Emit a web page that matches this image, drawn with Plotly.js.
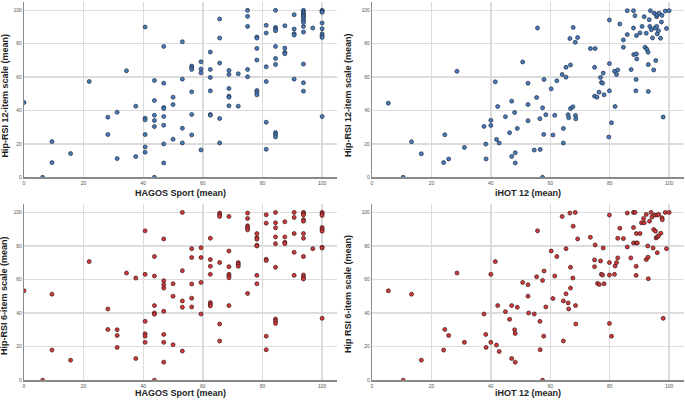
<!DOCTYPE html>
<html>
<head>
<meta charset="utf-8">
<script src="https://cdn.plot.ly/plotly-3.0.1.min.js"></script>
<style>
html,body{margin:0;padding:0;background:#fff;}
#chart{width:685px;height:401px;}
</style>
</head>
<body>
<div id="chart"></div>
<script>
// Panel A: HAGOS Sport vs Hip-RSI 12-item
const hagosSportA = [0,6.25,9.375,9.375,15.625,21.875,28.125,28.125,31.25,31.25,34.375,37.5,37.5,40.625,40.625,40.625,40.625,40.625,40.625,43.75,43.75,43.75,43.75,43.75,43.75,46.875,46.875,46.875,46.875,46.875,46.875,46.875,46.875,
50,50,50,53.125,53.125,53.125,53.125,56.25,56.25,56.25,56.25,56.25,56.25,59.375,59.375,59.375,59.375,
62.5,62.5,62.5,62.5,62.5,62.5,65.625,65.625,65.625,65.625,65.625,68.75,68.75,68.75,68.75,68.75,68.75,71.875,71.875,
75,75,75,75,75,78.125,78.125,78.125,78.125,78.125,78.125,78.125,81.25,81.25,81.25,81.25,81.25,81.25,
84.375,84.375,84.375,84.375,84.375,84.375,84.375,84.375,84.375,84.375,87.5,87.5,87.5,87.5,
90.625,90.625,90.625,90.625,90.625,93.75,93.75,93.75,93.75,93.75,93.75,93.75,93.75,93.75,93.75,93.75,93.75,93.75,
96.875,100,100,100,100,100,100,100,100,100];
const hipRsi12A = [44.8,0,21.4,8.8,14.2,57.4,36,25.6,39,11.2,63.8,42.6,12.4,90,35.4,34.4,25.6,18.2,15,58,46,37.2,34,30.4,0,78.4,56.4,41.8,41.2,36.4,31.2,20,8.6,
48,43.6,22.8,81.2,58.8,29.4,20.6,66.6,65.6,64.6,51.2,37.6,25.4,69.2,64.8,62.6,16.4,
75,64.6,59.8,51.8,37.6,37.2,94.8,83.4,68.4,35.2,20.6,64,61.6,53.2,48.6,48,42.8,62,42.6,
100,96.4,90.4,64.6,60.2,84,83.4,77.2,70.2,52,50.8,49.4,91,86.4,66.2,57.4,33,16.8,
100,89.8,88.8,87.8,78.4,71.2,67.6,26.8,25.6,24.2,90.8,77.4,74.8,74,
97.4,88.8,86,85.2,58.8,100,99,98,97.2,96.4,95.4,94,92.8,90.4,87,67.8,56.6,51.6,
89.4,100,99.4,98.8,92.4,89,86,84.8,83.8,36.4];

// Panel B: iHOT 12 vs Hip-RSI 12-item
const ihot12B = [5.5,10.5,13.3,16.6,24.1,24.5,25.8,28.6,31.1,37.7,38.3,38.4,40,40,41.5,41.9,42.3,42.8,44.9,46.3,47,47,48,48.2,48.2,48.9,50.7,52.5,52.5,52.5,
54.6,55.4,55.7,56.5,56.6,57.4,57.4,57.8,57.9,58.5,60.3,60.9,61.5,62.2,64,64.4,64.4,65.3,65.3,66,66.2,66.6,66.8,66.8,67.6,67.7,68.4,68.5,68.6,69.2,
73.5,74.9,75.1,74.9,75.7,76.4,76.9,77.2,77.6,77.8,78.1,79.9,79.9,79.9,79.7,80.6,81.6,81.8,82.3,82.7,83.4,84.6,84.6,85.9,85.9,87.2,88,88,88.1,88.5,
89,89,89.1,88.9,88.8,90.2,90.9,91.6,91.9,92.3,92.5,92.9,93,93,93.3,93.5,93.7,94,94.4,94.8,95,95.2,95.5,95.8,95.8,95.9,96,96.4,96.6,97.1,97.4,97.6,98,98.7,99.1,100];
const hipRsi12B = [44.4,0,21.3,14.1,8.8,25.5,11,63.5,17.9,30.5,19.9,11,34.1,31.1,57.2,22.7,42.4,20.5,36.3,26.7,45.6,12.5,38.8,14.7,8.6,29.3,69.1,56.4,43.6,33.9,
16.3,47.8,89.4,35.1,16.7,41.6,0,25.7,58.6,37.5,53,25.3,37.1,57.8,61.6,29.3,20.5,65.9,60,37.5,35.7,83.1,67.3,41.2,42.2,89.8,80.9,37,35,83.7,
77.1,65.9,77.1,48.6,48,51,59.8,56.8,56.4,62.4,49.4,94.2,68.1,51.8,24.1,32.7,63.5,42.4,61.6,64.3,91.8,82.3,77.9,99.8,85.5,64.5,99.8,89.4,73.5,96.8,
84.9,73.9,70.9,58.6,51.8,86.5,90.4,96.2,77.9,86.3,76.7,74.9,67.5,51.4,94.4,90.4,99.8,88.4,83.5,64.3,98.2,89.4,69.9,90.4,96.2,97.4,85.9,87.8,98.2,83.3,93,97,36.1,99.6,89.2,99.8];

// Panel C: HAGOS Sport vs Hip-RSI 6-item
const hagosSportC = [0,6.25,9.375,9.375,15.625,21.875,28.125,28.125,31.25,31.25,31.25,34.375,37.5,37.5,40.625,40.625,40.625,40.625,40.625,40.625,43.75,43.75,43.75,43.75,43.75,43.75,
46.875,46.875,46.875,46.875,46.875,46.875,46.875,46.875,50,50,50,53.125,53.125,53.125,53.125,53.125,56.25,56.25,56.25,56.25,56.25,59.375,59.375,59.375,59.375,
62.5,62.5,62.5,62.5,62.5,62.5,62.5,65.625,65.625,65.625,65.625,65.625,65.625,68.75,68.75,68.75,68.75,68.75,68.75,68.75,71.875,71.875,71.875,
75,75,75,75,75,75,78.125,78.125,78.125,78.125,78.125,78.125,78.125,81.25,81.25,81.25,81.25,81.25,81.25,
84.375,84.375,84.375,84.375,84.375,84.375,84.375,84.375,84.375,87.5,87.5,87.5,87.5,90.625,90.625,90.625,90.625,90.625,
93.75,93.75,93.75,93.75,93.75,93.75,93.75,93.75,93.75,93.75,93.75,96.875,100,100,100,100,100,100,100,100,100];
const hipRsi6C = [53.3,0,51.3,18,12,70.7,42.5,30.3,30.1,26.7,19.6,63.9,60.9,13,89,63.1,35.1,27.7,26.3,22.6,73.7,62.1,44.5,40.1,39.3,0,
84.2,59.3,56.9,54.9,41.1,27.3,22.6,10.8,57.5,50.1,21.2,100,65.3,47.3,43.5,17.4,78.4,73.1,57.3,48.9,43.7,79,73.1,58.3,39.5,
84.6,71.9,67.9,63.1,46.3,45.3,44.3,99.6,98.6,97.6,70.1,33.5,23.4,97.6,77,67.7,63.1,62.1,61.1,44.5,70.1,69.1,67.9,
99.6,96.4,92,90.8,89.6,51.7,87.4,85,84,80.4,80,62.5,57.5,98.6,93.6,72.1,71.3,26.3,18.2,
100,93.8,90.8,85.4,81.4,67.3,36.5,35.3,33.9,94.4,85.4,82.2,81.4,100,97,87.4,76.2,62.5,
100,99.4,98.4,95.6,94.8,87.4,84.6,73.7,62.7,61.3,60.3,78.4,100,99.2,98.2,91,90,88.8,79.2,78.8,36.9];

// Panel D: iHOT 12 vs Hip RSI 6-item
const ihot12D = [5.5,10.5,13.3,16.6,24.1,24.5,25.8,28.6,31.1,37.7,38.3,38.4,40,40,41.5,41.9,42.3,42.8,44.9,46.3,47,47,48,48.2,48.2,48.9,50.7,52.5,52.5,52.7,
54.6,55.4,55.7,56.5,56.6,57.4,57.4,57.8,57.9,58.5,60.3,60.9,61.5,62.2,64,64.4,64.4,65.3,65.3,66,66.2,66.6,66.8,66.8,67.6,67.7,68.4,68.5,68.6,69.2,
73.5,74.9,75.1,74.9,75.9,76.5,76.9,77.2,77.6,77.8,78.1,79.9,79.9,79.9,79.9,80.6,81.6,81.8,82.3,82.7,82.7,83.4,84.6,85.9,85.9,87.1,88,88.5,88,88,
89,90.2,88.9,89.3,88.9,88.9,90.7,91.6,91.4,92.3,92.3,92.8,92.9,93,93.4,93.9,94.2,94.6,94.8,95.4,95.1,95.6,96,96.4,95.9,96.5,96,97.2,97.6,97.7,98,98.7,99.1,100];
const hipRsi6D = [53.3,0,51.3,12,18,30.3,26.7,63.9,22.6,39.5,27.3,19.6,63.1,22.6,70.7,21,44.5,17.2,40.9,36.3,44.5,13,30.1,27.9,10.8,43.5,58.3,56.9,50.1,40.1,
39.5,61.7,89,35.1,18.2,59.5,0,26.3,65.1,43.7,77,48.7,62.1,73.7,97.6,47.3,23.4,78.4,51.5,46.1,42.5,99.6,67.3,54.9,60.9,91.8,100,44.5,33.5,84.2,
85.2,71.7,80.6,67.7,57.7,57.1,71.1,63.1,62.7,78.8,57.5,98.4,70.1,62.7,33.9,26.3,63.1,68.1,70.1,72.9,84.6,90.6,84.4,99.6,79.4,72.9,100,100,91,81.8,
87.4,87.4,81.8,81.8,67.9,62.5,93.8,93.8,96.4,98.8,71.9,80,73.3,60.5,94.8,100,97.2,78.8,89.8,88.8,98.4,84.8,85.4,86,98.4,98.8,76,87.6,96.8,95.6,36.9,100,78.4,100];

const tickValues = [0,20,40,60,80,100];
const tickLabels = ['0','20','40','60','80','100'];
const xTitles = ['HAGOS Sport (mean)','iHOT 12 (mean)','HAGOS Sport (mean)','iHOT 12 (mean)'];
const yTitles = ['Hip-RSI 12-item scale (mean)','Hip-RSI 12-item scale (mean)','Hip-RSI 6-item scale (mean)','Hip RSI 6-item scale (mean)'];

const W = 685, H = 401;
const FONT = 'Liberation Sans, Arial, sans-serif';
const blueFill = '#4a7db8', blueLine = '#1c2b45';
const redFill = '#d23b3b', redLine = '#3a1616';

function mk(x, y, fill, line, xa, ya) {
  return {x: x, y: y, type: 'scatter', mode: 'markers', xaxis: xa, yaxis: ya,
    marker: {size: 4, color: fill, line: {color: line, width: 0.7}}, hoverinfo: 'x+y', showlegend: false};
}
const data = [
  mk(hagosSportA, hipRsi12A, blueFill, blueLine, 'x', 'y'),
  mk(ihot12B, hipRsi12B, blueFill, blueLine, 'x2', 'y2'),
  mk(hagosSportC, hipRsi6C, redFill, redLine, 'x3', 'y3'),
  mk(ihot12D, hipRsi6D, redFill, redLine, 'x4', 'y4')
];

// pixel boxes of plot areas
const colPx = [[24, 337], [372, 684]];
const rowPx = [[2, 177.3], [204, 380.3]];
const xd = c => [colPx[c][0] / W, colPx[c][1] / W];
const yd = r => [1 - rowPx[r][1] / H, 1 - rowPx[r][0] / H];

function axis(domain, anchor) {
  return {domain: domain, anchor: anchor, range: [0, 105], tickmode: 'array', tickvals: tickValues, ticktext: tickLabels,
    showgrid: true, gridcolor: '#dcdcdc', gridwidth: 1.3, zeroline: false, showline: true, linecolor: '#8a8a8a', linewidth: 1.2,
    ticks: '', ticklen: 0, tickfont: {family: FONT, size: 5, color: '#555'}, fixedrange: true, automargin: false};
}
const layout = {
  width: W, height: H, margin: {l: 0, r: 0, t: 0, b: 0}, paper_bgcolor: '#fff', plot_bgcolor: '#fff',
  font: {family: FONT}, showlegend: false,
  xaxis: axis(xd(0), 'y'), yaxis: axis(yd(0), 'x'),
  xaxis2: axis(xd(1), 'y2'), yaxis2: axis(yd(0), 'x2'),
  xaxis3: axis(xd(0), 'y3'), yaxis3: axis(yd(1), 'x3'),
  xaxis4: axis(xd(1), 'y4'), yaxis4: axis(yd(1), 'x4'),
  annotations: []
};
const xTitleY = [193, 393];
const yTitleX = [4, 347.5];
const yTitleY = [[95.5, 95.5], [296, 294.5]];
for (let i = 0; i < 4; i++) {
  const c = i % 2, r = Math.floor(i / 2);
  layout.annotations.push({text: '<b>' + xTitles[i] + '</b>', xref: 'paper', yref: 'paper',
    x: (colPx[c][0] + colPx[c][1]) / 2 / W, y: 1 - xTitleY[r] / H, xanchor: 'center', yanchor: 'middle',
    showarrow: false, font: {family: FONT, size: 9, color: '#222'}});
  layout.annotations.push({text: '<b>' + yTitles[i] + '</b>', xref: 'paper', yref: 'paper', textangle: -90,
    x: yTitleX[c] / W, y: 1 - yTitleY[r][c] / H, xanchor: 'center', yanchor: 'middle',
    showarrow: false, font: {family: FONT, size: 9, color: '#222'}});
}
Plotly.newPlot('chart', data, layout, {staticPlot: true, displayModeBar: false});
</script>
</body>
</html>
